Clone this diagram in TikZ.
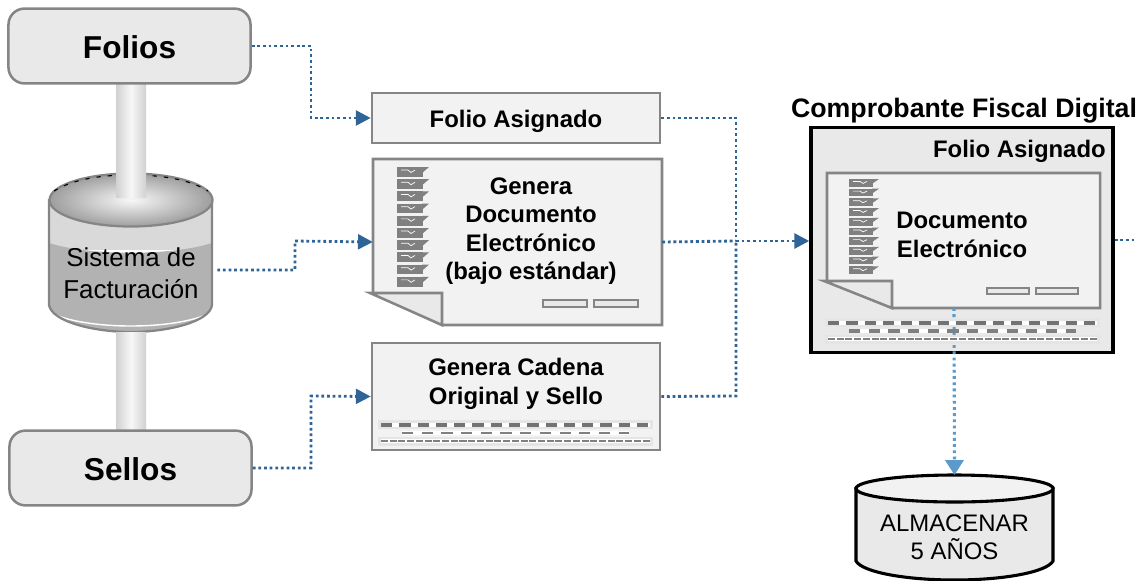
\documentclass[tikz,border=0pt]{standalone}
\usepackage{fontspec}
\setmainfont{Liberation Sans}
\usetikzlibrary{arrows.meta}
\definecolor{flowblue}{HTML}{2E6496}
\definecolor{storeblue}{HTML}{5B9BCB}
\definecolor{edgegray}{HTML}{858585}
\definecolor{pagegray}{HTML}{F2F2F2}
\definecolor{panelgray}{HTML}{E9E9E9}
\tikzset{
	sourcebox/.style={draw=edgegray, fill=panelgray, line width=1.8pt, rounded corners=0.4cm, minimum width=6.05cm, minimum height=1.87cm, text height=18pt, text depth=0pt, font=\fontsize{22.5}{26}\selectfont\bfseries},
	stepbox/.style={draw=edgegray, fill=pagegray, line width=1.8pt, minimum width=7.2cm, align=center, font=\fontsize{17}{20}\selectfont\bfseries},
	label/.style={align=center, font=\fontsize{17}{20.2}\selectfont\bfseries},
	flow/.style={draw=flowblue, line width=2pt, dash pattern=on 2pt off 2pt},
	flowtip/.style={flow, -{Triangle[length=0.37cm,width=0.37cm]}},
	storetip/.style={draw=storeblue, line width=2.2pt, dash pattern=on 2pt off 2.4pt, -{Triangle[length=0.37cm,width=0.45cm]}},
	pagefold/.style={draw=edgegray, fill=pagegray, line width=1.8pt, line join=miter}
}
% page with folded corner: left, top, right, bottom, fold x, fold y
\def\foldpage(#1,#2,#3,#4,#5,#6){
	\draw[pagefold] (#1, #2) -- (#3, #2) -- (#3, #4) -- (#5, #4) -- (#1, #6) -- cycle;
	\draw[pagefold, fill=panelgray] (#1-3, #6) -- (#5, #6) -- (#5, #4) -- cycle;
}
\def\checklist(#1,#2,#3,#4){
	\foreach \row in {0,...,9}{
		\fill[black!50] (#1, #2+\row*#3) rectangle (#1+#4, #2+\row*#3+0.8*#3);
		\fill[black!50] (#1+#4-1, #2+\row*#3) -- (#1+#4+6, #2+\row*#3) -- (#1+#4-1, #2+\row*#3+0.5*#3) -- cycle;
		\draw[white, line width=0.5pt] (#1+4, #2+\row*#3+0.25*#3) -- (#1+11, #2+\row*#3+0.25*#3) -- (#1+14, #2+\row*#3+0.45*#3) -- (#1+18, #2+\row*#3+0.25*#3);
	}
}
\def\signrules(#1,#2,#3,#4){
	\draw[draw=edgegray, fill=panelgray, line width=1.4pt] (#1, #2) rectangle (#1+#3, #2+#4);
	\draw[draw=edgegray, fill=panelgray, line width=1.4pt] (#1+#3+7, #2) rectangle (#1+2*#3+7, #2+#4);
}
% last argument: thickness of the middle row
\def\sealstrip(#1,#2,#3,#4){
	\fill[black!10] (#1, #2) rectangle (#1+#3, #2+9);
	\fill[black!10] (#1, #2+17) rectangle (#1+#3, #2+26);
	\draw[white, line width=3pt] (#1+3, #2+5) -- (#1+#3-3, #2+5);
	\draw[white, line width=3pt] (#1+24, #2+13) -- (#1+#3-24, #2+13);
	\draw[white, line width=2.4pt] (#1+3, #2+21) -- (#1+#3-3, #2+21);
	\draw[black!55, line width=2.6pt, dash pattern=on 8pt off 5pt] (#1+3, #2+5) -- (#1+#3-3, #2+5);
	\draw[black!50, line width=#4, dash pattern=on 8pt off 6pt] (#1+24, #2+13) -- (#1+#3-24, #2+13);
	\draw[black!50, line width=2pt, dash pattern=on 5pt off 1.2pt] (#1+3, #2+21) -- (#1+#3-3, #2+21);
}

\begin{document}
\begin{tikzpicture}[x=0.025cm, y=-0.025cm]
	%%%%% START %%%%%
	\useasboundingbox (0, 0) rectangle (1136, 580);

	% cylinder of the billing system
	\fill[black!15] (49, 199) rectangle (212, 250);
	\fill[black!30] (49, 243) .. controls (90, 256) and (172, 256) .. (212, 243) -- (212, 305) .. controls (210, 322) and (167, 332) .. (131, 332) .. controls (95, 332) and (52, 322) .. (49, 305) -- cycle;
	\draw[white, line width=1pt] (53, 314) .. controls (90, 330) and (172, 330) .. (208, 314);
	\draw[edgegray, line width=1.6pt] (49, 199) -- (49, 305) .. controls (52, 322) and (95, 332) .. (131, 332) .. controls (167, 332) and (210, 322) .. (212, 305) -- (212, 199);
	\shade[inner color=black!3, outer color=black!38] (131, 200) ellipse (81.5 and 26.5);
	\draw[edgegray, line width=1.6pt] (131, 200) ellipse (81.5 and 26.5);
	\draw[black, line width=0.8pt, dash pattern=on 3pt off 5pt] (54, 191) .. controls (75, 178) and (105, 175) .. (131, 175) .. controls (157, 175) and (187, 178) .. (208, 191);

	% pillars
	\shade[left color=black!18, right color=black!18, middle color=black!3] (116, 84) rectangle (146, 197);
	\shade[left color=black!18, right color=black!18, middle color=black!3] (116, 332) rectangle (146, 431);

	% sources
	\node[sourcebox] (folios) at (129.5, 46) {Folios};
	\node[sourcebox] (sellos) at (130.5, 468) {Sellos};
	\node[align=center, inner sep=0pt, minimum width=4.3cm, font=\fontsize{18.4}{22.5}\selectfont] (sistema) at (131, 273) {Sistema de\\Facturación};

	% steps
	\node[stepbox, minimum height=1.25cm, text height=14pt, text depth=0pt] (asignado) at (516, 118) {Folio Asignado};
	\foldpage(373,159,662,325,442,293)
	\node[inner sep=0pt, minimum width=7.22cm, minimum height=4.15cm] (genera) at (517.5, 242) {};
	\node[label] (generatxt) at (531, 231) {Genera\\Documento\\Electrónico\\(bajo estándar)};
	\checklist(397,167,12.2,26)
	\signrules(543,300,44,7)
	\node[stepbox, minimum height=2.67cm] (cadena) at (516, 396.5) {};
	\node[label] (cadenatxt) at (516, 384) {Genera Cadena\\Original y Sello};
	\sealstrip(378,420,275,1.4pt)

	% receipt
	\node[label, font=\fontsize{19}{22}\selectfont\bfseries, anchor=south, inner sep=0pt] (titulo) at (964, 123) {Comprobante Fiscal Digital};
	\node[draw=black, fill=panelgray, line width=2.4pt, minimum width=7.55cm, minimum height=5.62cm] (recibo) at (962, 240) {};
	\node[label, anchor=east, inner sep=0pt] (folio) at (1106, 151) {Folio Asignado};
	\foldpage(827,173,1100,308,892,281)
	\checklist(849,179,9.7,24)
	\node[label, anchor=west, inner sep=0pt] (docu) at (896, 235) {Documento\\Electrónico};
	\signrules(987,288,42,6)
	\coordinate (docbase) at (954, 308);

	% storage
	\draw[draw=black, fill=panelgray, line width=2.2pt] (856, 488.5) -- (856, 561) .. controls (862, 572) and (905, 580) .. (954.5, 580) .. controls (1004, 580) and (1047, 572) .. (1053, 561) -- (1053, 488.5) -- cycle;
	\draw[draw=black, fill=pagegray, line width=2.2pt] (954.5, 488.5) ellipse (98.5 and 13.5);
	\node[align=center, inner sep=0pt, font=\fontsize{17}{20}\selectfont] (almacentxt) at (954.5, 537) {ALMACENAR\\5 AÑOS};
	\coordinate (almacen) at (954.5, 475);
	\coordinate (salida) at (1136, 240);
	\coordinate (union) at (736, 241);

	% connectors
	\draw[flowtip] (folios.east) -- (311, 46) -- (311, 118) -- (asignado.west);
	\draw[flowtip] ([yshift=0.075cm]sistema.east) -- (295, 270) -- (295, 241) -- (genera.west);
	\draw[flowtip] (sellos.east) -- (311, 468) -- (311, 396) -- (cadena.west);
	\draw[flow] (asignado.east) -- (736, 118) -- (union);
	\draw[flow] (cadena.east) -- (736, 396) -- (union);
	\draw[flow] (genera.east) -- (union);
	\draw[flowtip] (union) -- (recibo.west |- union);
	\draw[flow] (recibo.east |- salida) -- (salida);
	\draw[storetip] (docbase) -- (almacen);

	\sealstrip(825,318,275,2.6pt)

	%%%%% END %%%%%
\end{tikzpicture}
\end{document}
